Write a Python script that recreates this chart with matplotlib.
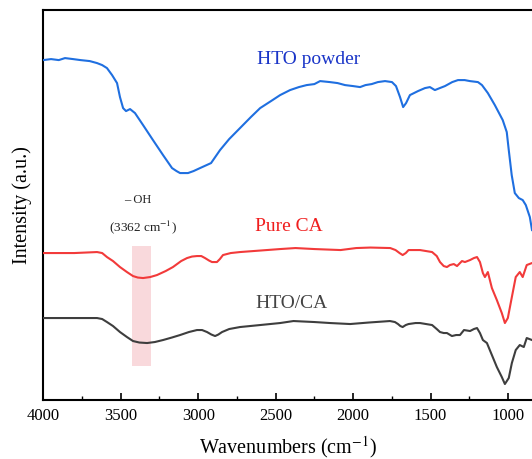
import matplotlib
matplotlib.use("Agg")
import matplotlib.pyplot as plt
from matplotlib.ticker import MultipleLocator

plt.rcParams['font.family'] = ['Liberation Serif', 'DejaVu Serif']
plt.rcParams['mathtext.fontset'] = 'stix'

# Wavenumbers (cm^-1) and intensities (a.u.)
hto_wn = [4000, 3950, 3900, 3860, 3808, 3760, 3700, 3653, 3620, 3589, 3556, 3524, 3505,
          3485, 3466, 3440, 3408, 3356, 3292, 3227, 3169, 3140, 3117, 3090, 3066, 3030,
          2988, 2917, 2859, 2800, 2730, 2660, 2600, 2530, 2471, 2407, 2350, 2300, 2250,
          2213, 2150, 2100, 2052, 2000, 1955, 1920, 1880, 1840, 1794, 1749, 1723, 1697,
          1677, 1658, 1633, 1581, 1536, 1504, 1472, 1440, 1407, 1360, 1323, 1280, 1246,
          1194, 1168, 1130, 1085, 1034, 1008, 995, 976, 956, 930, 905, 885, 859, 845]
hto_int = [340, 341, 340, 342, 341, 340, 339, 337, 335, 332, 325, 317, 303,
           292, 289, 291, 287, 275, 260, 245, 232, 229, 227, 227, 227, 229,
           232, 237, 250, 261, 272, 283, 292, 299, 305, 310, 313, 315, 316,
           319, 318, 317, 315, 314, 313, 315, 316, 318, 319, 318, 314, 303,
           293, 297, 305, 309, 312, 313, 310, 312, 314, 318, 320, 320, 319,
           318, 315, 307, 295, 280, 268, 250, 225, 207, 202, 200, 195, 183, 170]

ca_wn = [4000, 3800, 3653, 3620, 3589, 3550, 3505, 3460, 3421, 3390, 3356, 3310, 3266,
         3210, 3163, 3110, 3072, 3040, 3008, 2980, 2956, 2930, 2911, 2879, 2860, 2840,
         2790, 2730, 2600, 2471, 2372, 2250, 2081, 1980, 1888, 1760, 1726, 1700, 1680,
         1660, 1642, 1568, 1490, 1460, 1439, 1415, 1394, 1375, 1350, 1329, 1297, 1278,
         1245, 1220, 1200, 1181, 1162, 1149, 1130, 1104, 1072, 1040, 1020, 1001, 975,
         950, 924, 905, 879, 845]
ca_int = [147, 147, 148, 147, 143, 139, 133, 128, 124, 122.5, 122, 123, 125,
          129, 133, 139, 142, 143.5, 144, 144, 142, 139.5, 138, 138, 141, 145,
          147, 148, 149.5, 151, 152, 151, 150, 152, 152.5, 152, 150, 147, 145,
          147, 150, 150, 148, 144, 138, 134, 133, 135, 136, 134, 139, 138,
          140, 142, 143, 138, 127, 123, 128, 112, 100, 87, 77, 82, 103,
          123, 128, 123, 135, 137]

htoca_wn = [4000, 3800, 3653, 3620, 3589, 3550, 3505, 3460, 3421, 3380, 3330, 3280, 3227,
            3170, 3117, 3060, 3008, 2975, 2943, 2915, 2891, 2870, 2846, 2800, 2730, 2600,
            2471, 2385, 2250, 2148, 2019, 1900, 1762, 1730, 1710, 1695, 1680, 1660, 1642,
            1597, 1568, 1490, 1460, 1439, 1415, 1394, 1362, 1335, 1310, 1284, 1245, 1220,
            1200, 1181, 1162, 1136, 1104, 1072, 1040, 1020, 995, 975, 950, 924, 898,
            879, 845]
htoca_int = [82, 82, 82, 81, 78, 74, 68, 63, 59, 57.5, 57, 58, 60,
             62.5, 65, 68, 70, 70, 68, 65.5, 64, 65.5, 68, 71, 73, 75,
             77, 79, 78, 77, 76, 77.5, 79, 78, 76, 74, 73, 75, 76,
             77, 77, 75, 71, 68, 67, 67, 64, 65, 65, 70, 69, 71,
             72, 67, 60, 57, 45, 33, 23, 16, 22, 37, 50, 55, 53,
             62, 60]

band_wn = (3427, 3304)
band_int = (34, 154)

fig = plt.figure(figsize=(5.32, 4.59), dpi=100)
ax = fig.add_axes([0.0814, 0.1285, 0.9186, 0.8495])

ax.fill_between(band_wn, band_int[0], band_int[1], color='#f9d3d6', alpha=0.85,
                linewidth=0, zorder=1)
ax.plot(hto_wn, hto_int, color='#1f6fe0', lw=1.5, zorder=3)
ax.plot(ca_wn, ca_int, color='#f23a3a', lw=1.5, zorder=3)
ax.plot(htoca_wn, htoca_int, color='#3e3e3e', lw=1.5, zorder=3)

ax.text(2285, 341, 'HTO powder', color='#1a35c8', fontsize=14, ha='center', va='center')
ax.text(2414, 174, 'Pure CA', color='#f01e1e', fontsize=14, ha='center', va='center')
ax.text(2400, 97, 'HTO/CA', color='#444444', fontsize=14, ha='center', va='center')
ax.text(3389, 200, '– OH', color='#222222', fontsize=9, ha='center', va='center')
ax.text(3355, 173, r'(3362 cm$^{-1}$)', color='#222222', fontsize=9.5, ha='center', va='center')

ax.set_xlim(4000, 845)
ax.set_ylim(0, 390)
ax.xaxis.set_major_locator(MultipleLocator(500))
ax.xaxis.set_minor_locator(MultipleLocator(250))
ax.set_yticks([])
ax.tick_params(axis='x', which='major', direction='in', length=5, width=1.2,
               labelsize=12, pad=6)
ax.tick_params(axis='x', which='minor', direction='in', length=3, width=1.0)
ax.spines['right'].set_visible(False)
for s in ('left', 'top', 'bottom'):
    ax.spines[s].set_linewidth(1.5)

ax.set_xlabel(r'Wavenumbers (cm$^{-1}$)', fontsize=14.5, labelpad=7)
ax.set_ylabel('Intensity (a.u.)', fontsize=14.5, labelpad=8)

fig.savefig('out.png', dpi=100)
